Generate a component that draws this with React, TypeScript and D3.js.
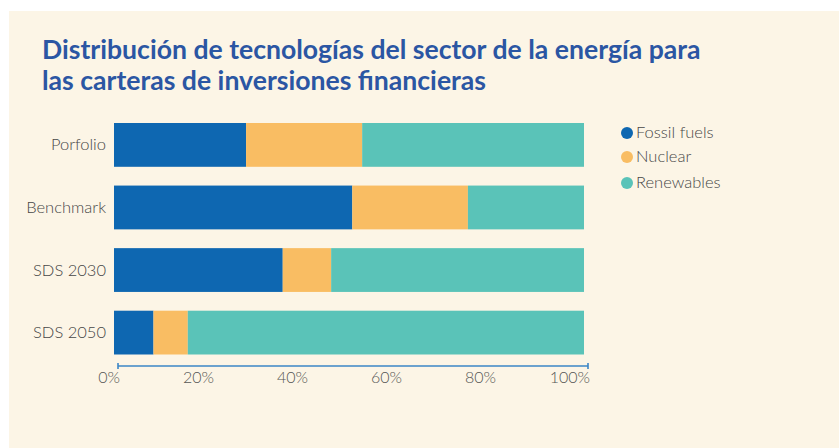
import * as d3 from "d3";

const categories = ["Porfolio", "Benchmark", "SDS 2030", "SDS 2050"];
const seriesNames = ["Fossil fuels", "Nuclear", "Renewables"];
const fossil = [0.281, 0.507, 0.359, 0.084];
const nuclear = [0.247, 0.246, 0.103, 0.073];
const renewables = [0.472, 0.247, 0.538, 0.843];
const tickValues = [0, 0.2, 0.4, 0.6, 0.8, 1];
const colors = ["#0e67b1", "#f9bd63", "#5ac3b8"];

const width = 839;
const height = 448;

export default function App() {
    const rows = categories.map((c, i) => ({
        category: c,
        "Fossil fuels": fossil[i],
        Nuclear: nuclear[i],
        Renewables: renewables[i]
    }));

    const stacked = d3.stack<any>().keys(seriesNames)(rows);

    const x = d3.scaleLinear().domain([0, 1]).range([114, 584]);
    const y = d3.scaleBand()
        .domain(categories)
        .range([123, 354.5])
        .paddingInner(0.3);
    const color = d3.scaleOrdinal<string>().domain(seriesNames).range(colors);

    const axisY = 366;
    const legendY = [133, 157, 183];

    return (
        <svg
            width={width}
            height={height}
            style={{ position: "absolute", left: 0, top: 0, fontFamily: "Lato, 'Open Sans', sans-serif" }}
        >
            <rect x={0} y={0} width={width} height={height} fill="#ffffff" />
            <rect x={9} y={11} width={width - 9} height={height - 11} fill="#fcf5e6" />

            <g fill="#2b56a3" fontWeight={700} fontSize={26.6}>
                <text x={42} y={59}>Distribución de tecnologías del sector de la energía para</text>
                <text x={42} y={90}>las carteras de inversiones financieras</text>
            </g>

            {categories.map(c => (
                <text
                    key={c}
                    x={106}
                    y={(y(c) ?? 0) + y.bandwidth() / 2 + 5.5}
                    textAnchor="end"
                    fontSize={16.5}
                    fontWeight={300}
                    fill="#474747"
                >
                    {c}
                </text>
            ))}

            {stacked.map(layer => (
                <g key={layer.key} fill={color(layer.key)}>
                    {layer.map((d, i) => (
                        <rect
                            key={i}
                            x={x(d[0])}
                            y={y(d.data.category)}
                            width={x(d[1]) - x(d[0])}
                            height={y.bandwidth()}
                        />
                    ))}
                </g>
            ))}

            <g stroke="#3b86c6" strokeWidth={1.6}>
                <line x1={x(0) + 4} x2={x(1) + 4} y1={axisY} y2={axisY} />
                <line x1={x(0) + 4} x2={x(0) + 4} y1={axisY - 3} y2={axisY + 3} />
                <line x1={x(1) + 4} x2={x(1) + 4} y1={axisY - 3} y2={axisY + 3} />
            </g>
            {tickValues.map(t => (
                <text
                    key={t}
                    x={x(t) + 6}
                    y={383}
                    textAnchor="end"
                    fontSize={16}
                    fontWeight={300}
                    fill="#555"
                >
                    {d3.format(".0%")(t)}
                </text>
            ))}

            {seriesNames.map((s, i) => (
                <g key={s}>
                    <circle cx={627} cy={legendY[i]} r={6} fill={color(s)} />
                    <text x={636} y={legendY[i] + 5} fontSize={16.5} fontWeight={300} fill="#474747">{s}</text>
                </g>
            ))}
        </svg>
    );
}
